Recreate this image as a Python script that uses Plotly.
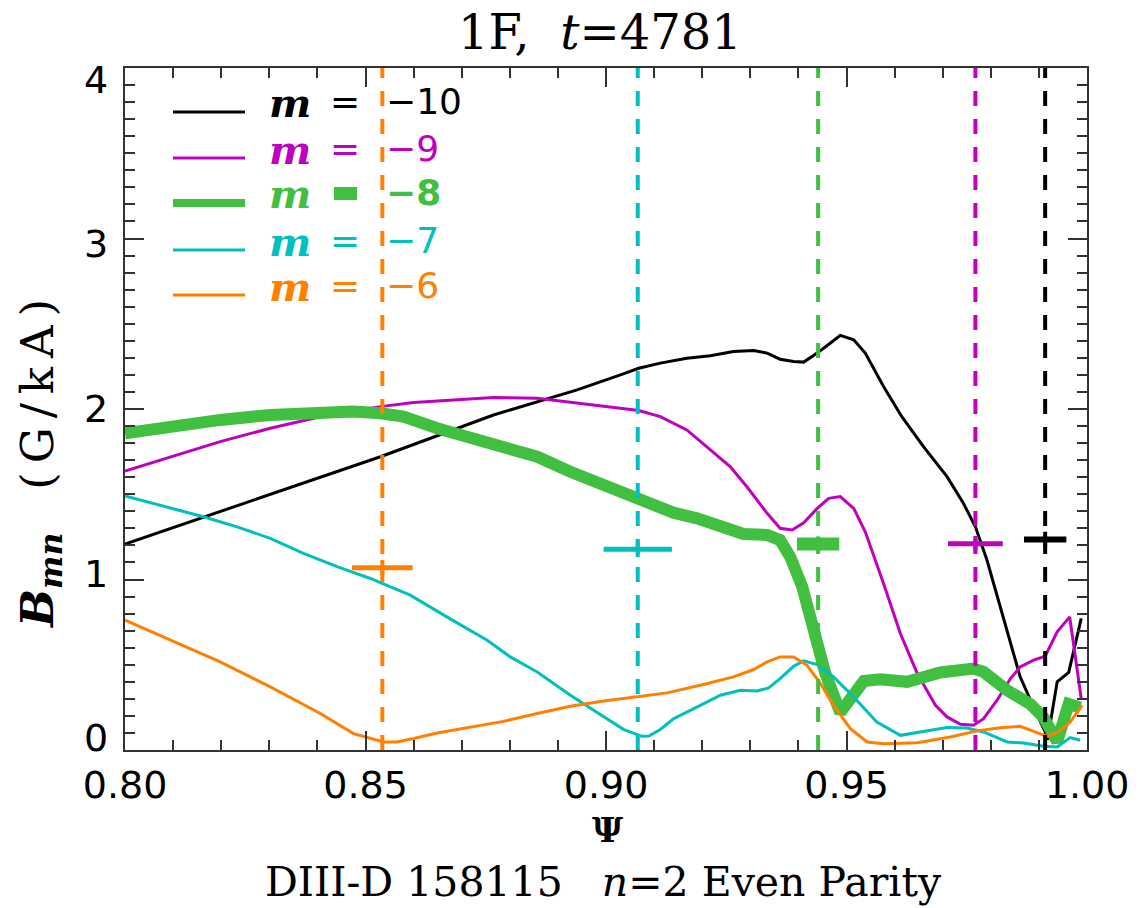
import plotly.graph_objects as go

# ---- poloidal harmonics B_mn vs normalized flux, n=2 even parity ----
psi_m10 = [0.800, 0.8163, 0.8531, 0.8766, 0.894, 0.903, 0.9068, 0.9113, 0.9168, 0.9217,
           0.9265, 0.9307, 0.9335, 0.9362, 0.939, 0.9411, 0.9439, 0.9466, 0.9487, 0.9515,
           0.9539, 0.9577, 0.9615, 0.966, 0.9709, 0.9743, 0.9768, 0.9792, 0.982, 0.9861,
           0.9889, 0.9913, 0.9918, 0.9938, 0.9962, 0.9988]
b_m10 = [1.208, 1.365, 1.720, 1.965, 2.112, 2.200, 2.239, 2.269, 2.298, 2.312,
         2.337, 2.343, 2.328, 2.292, 2.278, 2.275, 2.328, 2.386, 2.432, 2.406,
         2.328, 2.132, 1.955, 1.779, 1.603, 1.447, 1.309, 1.114, 0.840, 0.429,
         0.252, 0.106, 0.060, 0.400, 0.455, 0.772]

psi_m9 = [0.800, 0.8094, 0.8198, 0.8302, 0.8406, 0.8531, 0.860, 0.8683, 0.8766, 0.8857,
          0.894, 0.903, 0.9068, 0.9113, 0.9168, 0.9217, 0.9258, 0.9293, 0.9335, 0.9362,
          0.9387, 0.9411, 0.9439, 0.9463, 0.9487, 0.9515, 0.9539, 0.9577, 0.9612, 0.9647,
          0.9685, 0.9709, 0.9737, 0.9764, 0.9785, 0.9813, 0.9841, 0.9861, 0.9889, 0.9913,
          0.9938, 0.9964, 0.9988]
b_m9 = [1.636, 1.720, 1.809, 1.887, 1.955, 2.014, 2.038, 2.053, 2.067, 2.063,
        2.034, 2.005, 1.991, 1.955, 1.877, 1.760, 1.662, 1.544, 1.388, 1.300,
        1.290, 1.333, 1.417, 1.476, 1.486, 1.417, 1.280, 0.977, 0.683, 0.449,
        0.262, 0.194, 0.151, 0.145, 0.184, 0.292, 0.419, 0.487, 0.527, 0.550,
        0.693, 0.781, 0.302]

psi_m8 = [0.800, 0.8094, 0.8198, 0.8302, 0.8406, 0.8475, 0.8531, 0.8579, 0.8649, 0.8718,
          0.8787, 0.8857, 0.8926, 0.8995, 0.905, 0.9085, 0.914, 0.9189, 0.9238, 0.9286,
          0.9335, 0.9362, 0.9383, 0.9408, 0.9432, 0.9456, 0.9487, 0.9536, 0.957, 0.9626,
          0.9695, 0.9764, 0.9785, 0.9834, 0.9882, 0.991, 0.9938, 0.9962, 0.9986]
b_m8 = [1.858, 1.901, 1.936, 1.965, 1.981, 1.985, 1.975, 1.955, 1.887, 1.828,
        1.779, 1.720, 1.632, 1.554, 1.500, 1.456, 1.392, 1.359, 1.309, 1.267,
        1.261, 1.231, 1.133, 0.957, 0.703, 0.449, 0.220, 0.405, 0.415, 0.400,
        0.455, 0.478, 0.458, 0.350, 0.270, 0.190, 0.050, 0.270, 0.250]

psi_m7 = [0.800, 0.8094, 0.8163, 0.8233, 0.8302, 0.8371, 0.8441, 0.851, 0.8593, 0.8669,
          0.8753, 0.8801, 0.8857, 0.8926, 0.8988, 0.9037, 0.9075, 0.9089, 0.9113, 0.9141,
          0.9196, 0.9238, 0.9279, 0.9314, 0.9338, 0.9362, 0.939, 0.9411, 0.9439, 0.9473,
          0.9515, 0.9563, 0.9612, 0.9653, 0.9709, 0.975, 0.9785, 0.9834, 0.9868, 0.991,
          0.9938, 0.9965, 0.9986]
b_m7 = [1.490, 1.417, 1.368, 1.309, 1.241, 1.153, 1.075, 1.006, 0.908, 0.781,
        0.644, 0.546, 0.458, 0.321, 0.210, 0.120, 0.080, 0.082, 0.120, 0.184,
        0.262, 0.321, 0.350, 0.346, 0.364, 0.419, 0.491, 0.523, 0.501, 0.429,
        0.311, 0.164, 0.086, 0.106, 0.132, 0.129, 0.106, 0.047, 0.041, 0.022,
        0.018, 0.073, 0.057]

psi_m6 = [0.800, 0.8094, 0.8198, 0.8302, 0.8406, 0.8475, 0.851, 0.8538, 0.8565, 0.860,
          0.8649, 0.8718, 0.8787, 0.8857, 0.8926, 0.8995, 0.9071, 0.9127, 0.9196, 0.9265,
          0.9307, 0.9335, 0.9362, 0.939, 0.9418, 0.9446, 0.9473, 0.9508, 0.9543, 0.9577,
          0.9647, 0.9716, 0.9771, 0.982, 0.9861, 0.9896, 0.9917, 0.9941, 0.9965, 0.999]
b_m6 = [0.762, 0.644, 0.517, 0.370, 0.214, 0.096, 0.067, 0.047, 0.047, 0.067,
        0.100, 0.135, 0.168, 0.214, 0.257, 0.288, 0.317, 0.335, 0.380, 0.429,
        0.472, 0.517, 0.546, 0.546, 0.497, 0.390, 0.262, 0.125, 0.047, 0.037,
        0.043, 0.076, 0.112, 0.131, 0.139, 0.100, 0.080, 0.106, 0.164, 0.262]

# resonant surfaces and island-width bars for each m
mode_labels = ["\u221210", "\u22129", "\u22128", "\u22127", "\u22126"]
mode_colors = ["#000000", "#BF00BF", "#40BF40", "#00BFBF", "#FF8000"]
resonant_psi = [0.9913, 0.9768, 0.9441, 0.9066, 0.8535]
bar_level = [1.235, 1.210, 1.208, 1.177, 1.069]
bar_halfwidth = [0.0044, 0.0057, 0.0044, 0.0071, 0.0063]

x_ticks = [0.80, 0.85, 0.90, 0.95, 1.00]
y_ticks = [0, 1, 2, 3, 4]

W, H = 1147, 908
ML, MR, MT, MB = 125, 60, 68, 158
PW, PH = W - ML - MR, H - MT - MB


def px(x):
    return (x - ML) / PW


def py(y):
    return (H - MB - y) / PH


curves = [(psi_m10, b_m10), (psi_m9, b_m9), (psi_m8, b_m8), (psi_m7, b_m7), (psi_m6, b_m6)]
widths = [3, 3, 12, 3, 3]

fig = go.Figure()
for (xs, ys), col, w in zip(curves, mode_colors, widths):
    fig.add_trace(go.Scatter(x=xs, y=ys, mode="lines",
                             line=dict(color=col, width=w), showlegend=False))

# dashed verticals at the rational surfaces
for xr, col in zip(resonant_psi, mode_colors):
    fig.add_trace(go.Scatter(x=[xr, xr], y=[0, 4], mode="lines",
                             line=dict(color=col, width=4, dash="15px,13px"),
                             showlegend=False))

# horizontal bars with a centre tick
bar_w = [6, 5, 13, 5, 5]
for xr, yb, hw, col, bw in zip(resonant_psi, bar_level, bar_halfwidth, mode_colors, bar_w):
    fig.add_trace(go.Scatter(x=[xr - hw, xr + hw], y=[yb, yb], mode="lines",
                             line=dict(color=col, width=bw), showlegend=False))
    fig.add_trace(go.Scatter(x=[xr, xr], y=[yb - 0.045, yb + 0.045], mode="lines",
                             line=dict(color=col, width=4), showlegend=False))

shapes = []
annotations = []

# legend block
row_y = [112, 158, 203, 250, 295]
for i, (lab, col) in enumerate(zip(mode_labels, mode_colors)):
    yl = row_y[i]
    thick = (i == 2)
    shapes.append(dict(type="line", xref="paper", yref="paper",
                       x0=px(173), x1=px(245), y0=py(yl), y1=py(yl),
                       line=dict(color=col, width=8 if thick else 3)))
    annotations.append(dict(xref="paper", yref="paper", x=px(290), y=py(yl - 9),
                            xanchor="center", yanchor="middle", showarrow=False,
                            text="<b><i>m</i></b>",
                            font=dict(family="DejaVu Serif", size=40, color=col)))
    if thick:
        shapes.append(dict(type="rect", xref="paper", yref="paper",
                           x0=px(334), x1=px(357), y0=py(200), y1=py(187),
                           fillcolor=col, line=dict(width=0)))
    else:
        annotations.append(dict(xref="paper", yref="paper", x=px(345), y=py(yl - 10),
                                xanchor="center", yanchor="middle", showarrow=False,
                                text="=",
                                font=dict(family="DejaVu Sans", size=36, color=col)))
    annotations.append(dict(xref="paper", yref="paper", x=px(384), y=py(yl - 10),
                            xanchor="left", yanchor="middle", showarrow=False,
                            text=("<b>%s</b>" % lab) if thick else lab,
                            font=dict(family="DejaVu Sans", size=36, color=col)))

# y tick labels, set on the y scale and spread slightly tighter than the ticks
for v in y_ticks:
    annotations.append(dict(xref="paper", yref="y", x=px(110), y=v,
                            xanchor="right", yanchor="middle", showarrow=False,
                            yshift=-(v - 2) * 5.8, text=str(v),
                            font=dict(family="DejaVu Sans", size=38, color="#000")))

# titles
annotations.append(dict(xref="paper", yref="paper", x=px(600), y=py(32),
                        xanchor="center", yanchor="middle", showarrow=False,
                        text="1F,\u00a0 <i>t</i>=4781",
                        font=dict(family="DejaVu Serif", size=48, color="#000")))
annotations.append(dict(xref="paper", yref="paper", x=px(607), y=py(830),
                        xanchor="center", yanchor="middle", showarrow=False,
                        text="<b>\u03a8</b>",
                        font=dict(family="DejaVu Serif", size=34, color="#000")))
annotations.append(dict(xref="paper", yref="paper", x=px(603), y=py(882),
                        xanchor="center", yanchor="middle", showarrow=False,
                        text="DIII-D 158115\u00a0\u00a0 <i>n</i>=2 Even Parity",
                        font=dict(family="DejaVu Serif", size=41, color="#000")))
annotations.append(dict(xref="paper", yref="paper", x=px(40), y=py(464),
                        xanchor="center", yanchor="middle", showarrow=False,
                        textangle=-90,
                        text=("<b><i>B</i></b><sub><b><i>mn</i></b></sub>\u00a0\u00a0\u00a0"
                              "(\u2009G\u2009/\u2009k\u2009A\u2009)"),
                        font=dict(family="DejaVu Serif", size=45, color="#000")))

fig.update_layout(
    width=W, height=H,
    margin=dict(l=ML, r=MR, t=MT, b=MB, pad=0),
    paper_bgcolor="white", plot_bgcolor="white",
    showlegend=False,
    shapes=shapes, annotations=annotations,
)
axis_common = dict(showgrid=False, zeroline=False, showline=True, linecolor="#333",
                   linewidth=2, mirror="allticks", ticks="inside", ticklen=19,
                   tickwidth=2, tickcolor="#333")
fig.update_xaxes(range=[0.8, 1.0], tickvals=x_ticks,
                 ticktext=["%.2f" % v for v in x_ticks],
                 tickfont=dict(family="DejaVu Sans", size=38, color="#000"),
                 minor=dict(ticks="inside", ticklen=10, dtick=0.01, tickwidth=2,
                            tickcolor="#333", showgrid=False),
                 ticklabelstandoff=0, **axis_common)
fig.update_yaxes(range=[0, 4], tickvals=y_ticks, showticklabels=False,
                 minor=dict(ticks="inside", ticklen=10, dtick=0.1, tickwidth=2,
                            tickcolor="#333", showgrid=False),
                 **axis_common)

fig.write_html("out.html")
